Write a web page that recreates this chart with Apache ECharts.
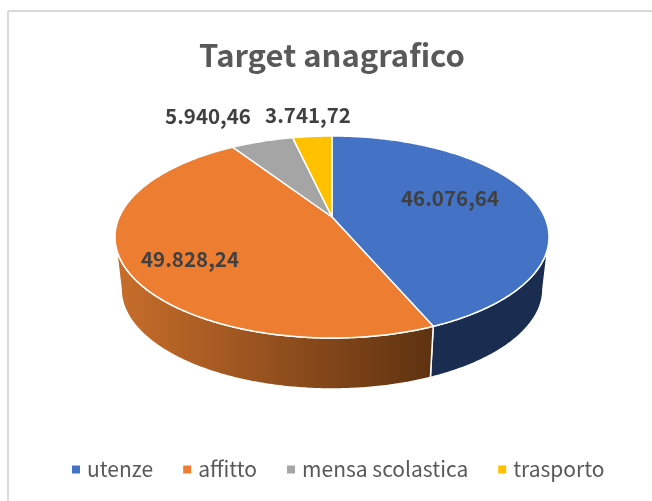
<!DOCTYPE html>
<html>
<head>
<meta charset="utf-8">
<script src="https://cdn.jsdelivr.net/npm/echarts@6/dist/echarts.min.js"></script>
<style>
  html, body { margin: 0; padding: 0; background: #fff; }
  #chart { width: 652px; height: 501px; }
</style>
</head>
<body>
<div id="chart"></div>
<script>
const categories = ['utenze', 'affitto', 'mensa scolastica', 'trasporto']
const values = [46076.64, 49828.24, 5940.46, 3741.72]

const topColors = ['#4472C4', '#ED7D31', '#A5A5A5', '#FFC000']
const sideColors = [
  '#1A2C50',
  new echarts.graphic.LinearGradient(0, 0, 1, 0, [
    { offset: 0, color: '#C96E2B' },
    { offset: 1, color: '#5E3210' }
  ]),
  '#63636a',
  '#997300'
]
// where each label sits, in pixels from the centre of the pie face
const labelSpots = [[118, -39], [-142, 22], [-124, -121], [-24, -122]]

const fontFamily = '"Noto Sans CJK SC", "Open Sans", sans-serif'
const textColor = '#404040'
const total = values.reduce((a, b) => a + b, 0)

// the pie is a disc seen in perspective: the centre of the slices is above
// the centre of the outline, so angles go through a projective mapping
const centerX = 332
const centerY = 237
const radiusX = 212.7
const radiusY = 101
const apexShift = -20
const tilt = -0.198

function project(angle, depth) {
  const u = Math.sin(angle)
  const v = -Math.cos(angle)
  const w = 1 + tilt * v
  const x = (radiusX * u) / w
  const y = (radiusY * v + apexShift) / w
  if (depth) return [centerX + x * 0.972, centerY + 52 + y * 0.99]
  return [centerX + x, centerY + y]
}

function arc(from, to, depth) {
  const n = Math.max(2, Math.ceil(Math.abs(to - from) / 0.01))
  const pts = []
  for (let i = 0; i <= n; i++) {
    pts.push(project(from + ((to - from) * i) / n, depth))
  }
  return pts
}

function formatIt(v) {
  const parts = v.toFixed(2).split('.')
  return parts[0].replace(/\B(?=(\d{3})+$)/g, '.') + ',' + parts[1]
}

// the wall is only visible on the front half
const wallFrom = Math.acos(-0.198)
const wallTo = 2 * Math.PI - wallFrom

function renderSlice(index) {
  return function (params, api) {
    const before = values.slice(0, index).reduce((a, b) => a + b, 0)
    const start = (before / total) * 2 * Math.PI
    const end = start + (api.value(0) / total) * 2 * Math.PI
    const children = []

    const a = Math.max(start, wallFrom)
    const b = Math.min(end, wallTo)
    if (b > a) {
      children.push({
        type: 'polygon',
        shape: { points: arc(a, b, false).concat(arc(b, a, true)) },
        style: { fill: sideColors[index], stroke: '#fff', lineWidth: 1.5 }
      })
    }

    children.push({
      type: 'polygon',
      shape: { points: [[centerX, centerY + apexShift]].concat(arc(start, end, false)) },
      style: { fill: topColors[index], stroke: '#fff', lineWidth: 1.5, lineJoin: 'round' }
    })

    children.push({
      type: 'text',
      z2: 10,
      style: {
        x: centerX + labelSpots[index][0],
        y: centerY + labelSpots[index][1],
        text: formatIt(api.value(0)),
        fill: textColor,
        font: 'bold 20.5px ' + fontFamily,
        align: 'center',
        verticalAlign: 'middle'
      }
    })

    return { type: 'group', children: children }
  }
}

const chart = echarts.init(document.getElementById('chart'))

chart.setOption({
  animation: false,
  backgroundColor: '#fff',
  title: {
    text: 'Target anagrafico',
    left: 327,
    top: 35,
    textAlign: 'center',
    textStyle: { color: '#595959', fontSize: 31, fontWeight: 'bold', fontFamily: fontFamily }
  },
  legend: {
    data: categories,
    left: 67,
    top: 454,
    icon: 'rect',
    itemWidth: 8,
    itemHeight: 8,
    itemGap: 30,
    selectedMode: false,
    textStyle: { color: '#595959', fontSize: 21, fontFamily: fontFamily, padding: [0, 0, 0, 2] }
  },
  graphic: [
    { type: 'line', shape: { x1: 8, y1: 11, x2: 8, y2: 501 }, style: { stroke: '#D9D9D9', lineWidth: 2 } },
    { type: 'line', shape: { x1: 8, y1: 11, x2: 652, y2: 11 }, style: { stroke: '#D9D9D9', lineWidth: 2 } }
  ],
  series: categories.map((name, i) => ({
    name: name,
    type: 'custom',
    coordinateSystem: 'none',
    itemStyle: { color: topColors[i] },
    renderItem: renderSlice(i),
    data: [[values[i]]]
  }))
})
</script>
</body>
</html>
